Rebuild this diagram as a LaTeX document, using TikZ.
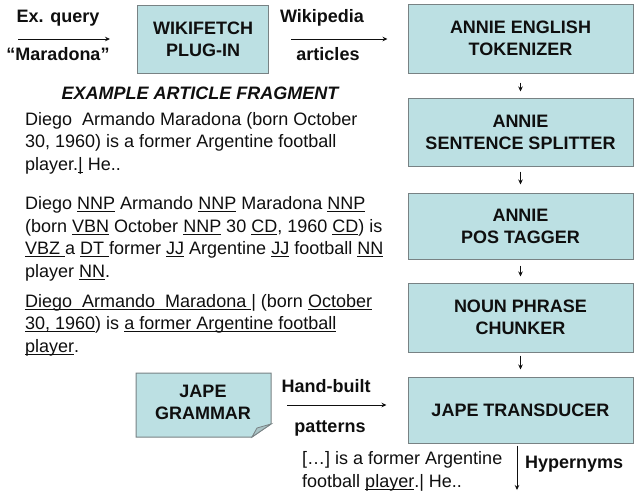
\documentclass[tikz,border=0pt]{standalone}
\usepackage{fontspec}
\setmainfont{Liberation Sans}
\usetikzlibrary{arrows.meta}
\definecolor{boxfill}{RGB}{188,224,227}
\definecolor{boxline}{RGB}{120,130,132}
\definecolor{txt}{RGB}{15,15,15}
\newcommand{\myul}[1]{\leavevmode\setbox0\hbox{#1}\rlap{\rule[-2.6pt]{\wd0}{0.9pt}}\box0\relax}
\begin{document}
\begin{tikzpicture}[x=1pt,y=-1pt,
  every node/.style={text=txt},
  stage/.style={draw=boxline,line width=1pt,fill=boxfill,minimum width=225pt,minimum height=68pt,inner sep=0pt,align=center,font=\fontsize{18}{22}\selectfont\bfseries},
  lbl/.style={font=\fontsize{18}{22}\selectfont\bfseries,inner sep=0pt,anchor=base},
  para/.style={font=\fontsize{18}{22.5}\selectfont,inner sep=0pt,anchor=base west,align=left},
  arr/.style={draw=txt,line width=0.9pt,-{Stealth[length=5pt,width=4.5pt]}}]
\useasboundingbox (0,0) rectangle (636,493);
% boxes
\node[stage,minimum width=131pt] (wiki) at (203,39) {WIKIFETCH\\PLUG-IN};
\node[stage,minimum height=69pt] (tok) at (520.5,38.5) {ANNIE ENGLISH\\TOKENIZER};
\node[stage] (split) at (520.5,132) {ANNIE\\SENTENCE SPLITTER};
\node[stage,minimum height=66pt] (pos) at (520.5,226) {ANNIE\\POS TAGGER};
\node[stage,minimum height=69pt] (np) at (520.5,317.5) {NOUN PHRASE\\CHUNKER};
\node[stage,minimum height=66pt] (jape) at (520.5,410) {JAPE TRANSDUCER};
% grammar (folded note)
\draw[draw=boxline,line width=1pt,fill=boxfill] (136,373) -- (271,373) -- (271,424) -- (252,437) -- (136,437) -- cycle;
\draw[draw=boxline,line width=0.8pt,fill=boxfill!70!gray] (252,437) -- (257,428) -- (271,424) -- cycle;
\node[stage,draw=none,fill=none,minimum width=0pt,minimum height=0pt] (gram) at (203,402) {JAPE\\GRAMMAR};
\coordinate (gramE) at (271,405);
% labels
\node[lbl] (exq) at (58,22) {Ex. query};
\node[lbl] (mara) at (58,60) {“Maradona”};
\node[lbl] (wikip) at (322,22) {Wikipedia};
\node[lbl] (arts) at (328,60) {articles};
\node[lbl] (hand) at (326,392) {Hand-built};
\node[lbl] (patt) at (330,432) {patterns};
\node[lbl,anchor=base west] (hyp) at (525,468) {Hypernyms};
\node[lbl,font=\fontsize{18}{22}\selectfont\bfseries\itshape] (ex) at (200,99) {EXAMPLE ARTICLE FRAGMENT};
% paragraphs (anchored at the baseline of their last line)
\node[para] (p1) at (25,170) {Diego\ \ Armando Maradona (born October\\30, 1960) is a former Argentine football\\player.\myul{|} He..};
\node[para] (p2) at (25,277) {Diego \myul{NNP} Armando \myul{NNP} Maradona \myul{NNP}\\(born \myul{VBN} October \myul{NNP} 30 \myul{CD}, 1960 \myul{CD}) is\\\myul{VBZ\ }a \myul{DT\ }former \myul{JJ} Argentine \myul{JJ} football \myul{NN}\\player \myul{NN}.};
\node[para] (p3) at (25,352) {\myul{Diego\ \ Armando\ \ Maradona\ }| (born \myul{October}\\\myul{30, 1960}) is \myul{a former Argentine football}\\\myul{player}.};
\node[para] (p4) at (302,487) {[…] is a former Argentine\\football \myul{player}.| He..};
% connectors
\coordinate (q0) at (18,39);
\coordinate (h1) at (517,490);
\draw[arr,shorten >=27pt] (q0) -- (wiki.west);
\draw[arr,shorten <=22pt,shorten >=20pt] (wiki.east) -- (tok.west |- wiki.east);
\draw[arr,shorten <=9pt,shorten >=6pt] (tok.south) -- (split.north);
\draw[arr,shorten <=5pt,shorten >=8pt] (split.south) -- (pos.north);
\draw[arr,shorten <=6pt,shorten >=6pt] (pos.south) -- (np.north);
\draw[arr,shorten <=3pt,shorten >=7pt] (np.south) -- (jape.north);
\draw[arr,shorten <=16pt,shorten >=21pt] (gramE) -- (jape.west |- gramE);
\draw[arr,shorten <=2pt] ([xshift=-3.5pt]jape.south) -- (h1);
\end{tikzpicture}
\end{document}
